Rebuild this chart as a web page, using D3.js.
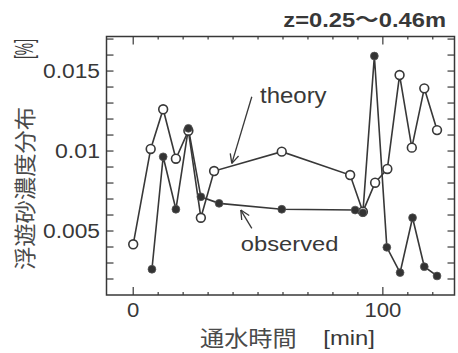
<!DOCTYPE html>
<html>
<head>
<meta charset="utf-8">
<script src="https://cdn.jsdelivr.net/npm/d3@7"></script>
<style>
  body { margin: 0; background: #fff; }
  svg { display: block; }
  text { font-family: "Liberation Sans", Arial, "Noto Sans CJK JP", sans-serif; fill: #383838; }
  .cjk { font-family: "Noto Sans CJK JP", sans-serif; fill: #4a4a4a; }
</style>
</head>
<body>
<svg width="458" height="353"></svg>
<script>
// theory (open circles)
let theory_t = [0, 7.0, 12.0, 17.1, 22.1, 27.1, 32.4, 59.5, 86.9, 92.0, 96.9, 101.8, 106.7, 111.6, 116.6, 121.7];
let theory_c = [0.00417, 0.01013, 0.01261, 0.00952, 0.01127, 0.00583, 0.00875, 0.00996, 0.0085, 0.00621, 0.00802, 0.00888, 0.01475, 0.01021, 0.01392, 0.01131];

// observed (filled)
let obs_t = [7.5, 12.0, 17.1, 22.1, 27.1, 34.4, 59.5, 88.9, 92.0, 96.6, 101.6, 106.9, 111.9, 116.6, 121.7];
let obs_c = [0.00261, 0.00964, 0.00636, 0.01142, 0.00714, 0.00673, 0.00636, 0.00631, 0.00614, 0.01594, 0.00398, 0.0024, 0.00583, 0.00277, 0.00219];

let x_ticks = [0, 100];
let y_ticks = [0.005, 0.01, 0.015];
let y_tick_labels = ["0.005", "0.01", "0.015"];

// annotation arrows, in data units: [tail, tip]
let theory_arrow = [[47.5, 0.01339], [39.5, 0.00923]];
let obs_arrow = [[47.5, 0.00517], [43.1, 0.00631]];

let ink = "#383838";
let svg = d3.select("svg");

let margin = { top: 36.5, right: 3.5, bottom: 58, left: 106.5 };
let W = 458, H = 353;

var xScale = d3.scaleLinear().domain([-10.7, 128.7]).range([margin.left, W - margin.right]);
var yScale = d3.scaleLinear().domain([0.001, 0.01716]).range([H - margin.bottom, margin.top]);

// stretch text horizontally a bit, like the scan
function fit(sel, len) {
  sel.attr("textLength", len).attr("lengthAdjust", "spacingAndGlyphs");
}

// frame
svg.append("rect")
  .attr("x", xScale.range()[0])
  .attr("y", yScale.range()[1])
  .attr("width", xScale.range()[1] - xScale.range()[0])
  .attr("height", yScale.range()[0] - yScale.range()[1])
  .attr("fill", "none")
  .attr("stroke", ink)
  .attr("stroke-width", 1.5);

// inward ticks on all four sides
let xMinor = d3.range(0, 121, 10);
let yMinor = d3.range(0.002, 0.01701, 0.001);
let tg = svg.append("g").attr("stroke", ink).attr("stroke-width", 1.2);
let y0 = yScale.range()[0], y1 = yScale.range()[1];
let x0 = xScale.range()[0], x1 = xScale.range()[1];
xMinor.forEach(v => {
  let len = x_ticks.includes(v) ? 8 : 3;
  tg.append("line").attr("x1", xScale(v)).attr("x2", xScale(v)).attr("y1", y0).attr("y2", y0 - len);
  tg.append("line").attr("x1", xScale(v)).attr("x2", xScale(v)).attr("y1", y1).attr("y2", y1 + len);
});
yMinor.forEach(v => {
  tg.append("line").attr("x1", x0).attr("x2", x0 + 7).attr("y1", yScale(v)).attr("y2", yScale(v));
  tg.append("line").attr("x1", x1).attr("x2", x1 - 7).attr("y1", yScale(v)).attr("y2", yScale(v));
});

// tick labels
y_ticks.forEach((v, i) => {
  let t = svg.append("text")
    .attr("x", 100)
    .attr("y", yScale(v))
    .attr("dy", "0.35em")
    .attr("text-anchor", "end")
    .attr("font-size", 20)
    .text(y_tick_labels[i]);
  fit(t, y_tick_labels[i].length === 4 ? 45 : 57);
});
x_ticks.forEach(v => {
  let t = svg.append("text")
    .attr("x", xScale(v))
    .attr("y", 317)
    .attr("text-anchor", "middle")
    .attr("font-size", 20)
    .text(v);
  fit(t, String(v).length * 12.3);
});

// lines
var line = d3.line()
  .x(d => xScale(d[0]))
  .y(d => yScale(d[1]));

let theory = theory_t.map((t, i) => [t, theory_c[i]]);
let observed = obs_t.map((t, i) => [t, obs_c[i]]);

svg.append("path").datum(theory).attr("d", line)
  .attr("fill", "none").attr("stroke", ink).attr("stroke-width", 1.6);
svg.append("path").datum(observed).attr("d", line)
  .attr("fill", "none").attr("stroke", ink).attr("stroke-width", 1.6);

svg.selectAll(".theory").data(theory).enter().append("circle")
  .attr("class", "theory")
  .attr("cx", d => xScale(d[0]))
  .attr("cy", d => yScale(d[1]))
  .attr("r", 4.4)
  .attr("fill", "#fff")
  .attr("stroke", ink)
  .attr("stroke-width", 1.6);

svg.selectAll(".obs").data(observed).enter().append("circle")
  .attr("class", "obs")
  .attr("cx", d => xScale(d[0]))
  .attr("cy", d => yScale(d[1]))
  .attr("r", 3.9)
  .attr("fill", "#333")
  .attr("stroke", "#555")
  .attr("stroke-width", 0.8);

// arrows
function arrow(a) {
  let tx = xScale(a[0][0]), ty = yScale(a[0][1]);
  let hx = xScale(a[1][0]), hy = yScale(a[1][1]);
  let ang = Math.atan2(hy - ty, hx - tx);
  let g = svg.append("g").attr("stroke", ink).attr("stroke-width", 1.3).attr("fill", "none");
  g.append("line").attr("x1", tx).attr("y1", ty).attr("x2", hx).attr("y2", hy);
  [-0.45, 0.45].forEach(da => {
    g.append("line")
      .attr("x1", hx).attr("y1", hy)
      .attr("x2", hx - 10 * Math.cos(ang + da))
      .attr("y2", hy - 10 * Math.sin(ang + da));
  });
}
arrow(theory_arrow);
arrow(obs_arrow);

fit(svg.append("text")
  .attr("x", xScale(50.8)).attr("y", yScale(0.013))
  .attr("font-size", 22).text("theory"), 66.6);
fit(svg.append("text")
  .attr("x", xScale(43.1)).attr("y", yScale(0.00372))
  .attr("font-size", 21).text("observed"), 97.6);

// header
fit(svg.append("text")
  .attr("x", 283.3).attr("y", 27.3)
  .attr("font-size", 20.5).attr("font-weight", "bold")
  .text("z=0.25〜0.46m"), 162.7);

// axis titles
fit(svg.append("text").attr("class", "cjk")
  .attr("x", 200).attr("y", 346)
  .attr("font-size", 22).text("通水時間"), 96.7);
fit(svg.append("text")
  .attr("x", 323.3).attr("y", 345)
  .attr("font-size", 21).text("[min]"), 51.7);

fit(svg.append("text").attr("class", "cjk")
  .attr("transform", "translate(33,188.5) rotate(-90)")
  .attr("text-anchor", "middle")
  .attr("font-size", 22).text("浮遊砂濃度分布"), 163);
fit(svg.append("text")
  .attr("transform", "translate(33,49) rotate(-90)")
  .attr("text-anchor", "middle")
  .attr("font-size", 25).text("[%]"), 20);
</script>
</body>
</html>
